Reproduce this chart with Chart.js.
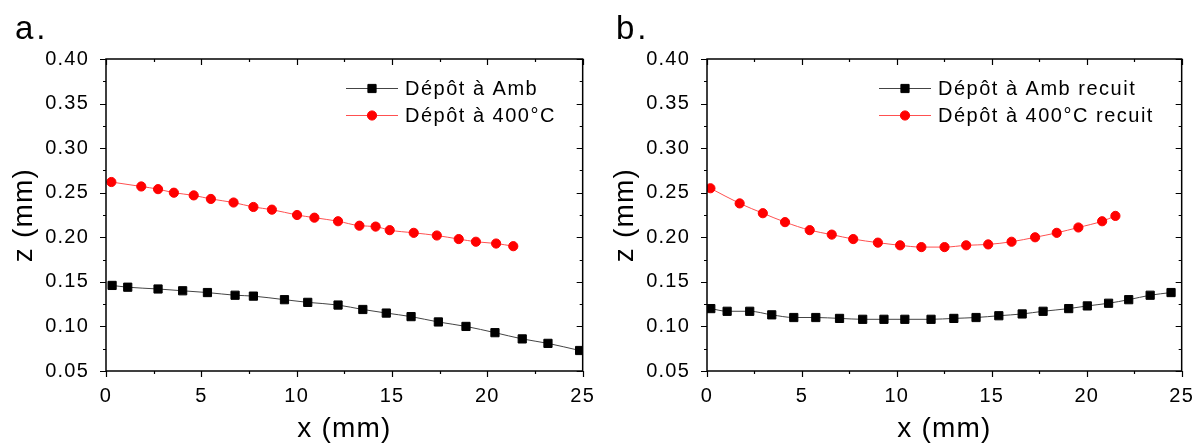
<!DOCTYPE html>
<html>
<head>
<meta charset="utf-8">
<script src="https://cdn.jsdelivr.net/npm/chart.js@4.4.1/dist/chart.umd.min.js"></script>
<style>
body{margin:0;background:#fff;}
#wrap{position:relative;width:1199px;height:443px;overflow:hidden;}
.panel{position:absolute;top:0;height:443px;}
.lbl{position:absolute;font-family:"Liberation Sans",Arial,sans-serif;font-size:33px;line-height:33px;color:#000;letter-spacing:3px;}
</style>
</head>
<body>
<div id="wrap">
  <div class="panel" style="left:0;width:600px"><canvas id="chartA"></canvas></div>
  <div class="panel" style="left:601px;width:598px"><canvas id="chartB"></canvas></div>
  <div class="lbl" style="left:15px;top:11px">a.</div>
  <div class="lbl" style="left:616px;top:11px">b.</div>
</div>
<script>
// panel a : as deposited
const ambXa = [0.32, 1.14, 2.73, 4.02, 5.32, 6.77, 7.73, 9.36, 10.58, 12.17, 13.47, 14.7, 16.0, 17.43, 18.88, 20.4, 21.83, 23.18, 24.84];
const ambZa = [0.146, 0.144, 0.142, 0.140, 0.138, 0.135, 0.134, 0.130, 0.127, 0.124, 0.119, 0.115, 0.111, 0.105, 0.100, 0.093, 0.086, 0.081, 0.073];
const hotXa = [0.28, 1.85, 2.73, 3.56, 4.6, 5.5, 6.69, 7.73, 8.7, 10.02, 10.93, 12.17, 13.29, 14.14, 14.88, 16.14, 17.35, 18.5, 19.4, 20.46, 21.36];
const hotZa = [0.262, 0.257, 0.254, 0.250, 0.247, 0.243, 0.239, 0.234, 0.231, 0.225, 0.222, 0.218, 0.213, 0.212, 0.208, 0.205, 0.202, 0.198, 0.195, 0.193, 0.190];

// panel b : annealed
const ambXb = [0.2, 1.06, 2.25, 3.41, 4.57, 5.73, 6.98, 8.2, 9.32, 10.42, 11.8, 13.0, 14.17, 15.37, 16.6, 17.7, 19.05, 20.03, 21.15, 22.21, 23.34, 24.44];
const ambZb = [0.120, 0.117, 0.117, 0.113, 0.110, 0.110, 0.109, 0.108, 0.108, 0.108, 0.108, 0.109, 0.110, 0.112, 0.114, 0.117, 0.120, 0.123, 0.126, 0.130, 0.135, 0.138];
const hotXb = [0.18, 1.72, 2.94, 4.11, 5.41, 6.57, 7.7, 9.0, 10.17, 11.29, 12.51, 13.65, 14.81, 16.04, 17.28, 18.42, 19.56, 20.81, 21.51];
const hotZb = [0.255, 0.238, 0.227, 0.217, 0.208, 0.203, 0.198, 0.194, 0.191, 0.189, 0.189, 0.191, 0.192, 0.195, 0.200, 0.205, 0.211, 0.218, 0.224];

const legendA = ['Dépôt à Amb', 'Dépôt à 400°C'];
const legendB = ['Dépôt à Amb recuit', 'Dépôt à 400°C recuit'];

const xMin = 0, xMax = 25, xStep = 5;
const yMin = 0.05, yMax = 0.40, yStep = 0.05;

const FONT = '"Liberation Sans", Arial, sans-serif';
const SPACING = '1.2px';

function pts(xs, ys) {
    return xs.map((v, i) => ({x: v, y: ys[i]}));
}

// the original figure has slightly spread-out lettering
const spacingPlugin = {
    id: 'spacing',
    beforeLayout(chart) { chart.ctx.letterSpacing = SPACING; },
    beforeDraw(chart) { chart.ctx.letterSpacing = SPACING; }
};

// frame + inner/outer ticks (major & minor)
const framePlugin = {
    id: 'frame',
    afterDraw(chart) {
        const ctx = chart.ctx;
        const a = chart.chartArea;
        const xs = chart.scales.x, ys = chart.scales.y;
        ctx.save();
        ctx.strokeStyle = '#000';
        ctx.lineWidth = 1.5;
        ctx.strokeRect(a.left, a.top, a.right - a.left, a.bottom - a.top);
        ctx.lineWidth = 1.2;
        ctx.beginPath();
        for (let i = 0; i <= (xMax - xMin) / (xStep / 2); i++) {
            const v = xMin + i * xStep / 2;
            const px = Math.round(xs.getPixelForValue(v)) + 0.5;
            const len = i % 2 === 0 ? 6 : 3;
            ctx.moveTo(px, a.bottom); ctx.lineTo(px, a.bottom + len);
            ctx.moveTo(px, a.top); ctx.lineTo(px, a.top + len);
        }
        const nY = Math.round((yMax - yMin) / (yStep / 2));
        for (let i = 0; i <= nY; i++) {
            const v = yMin + i * yStep / 2;
            const py = Math.round(ys.getPixelForValue(v)) + 0.5;
            const len = i % 2 === 0 ? 6 : 3;
            ctx.moveTo(a.left, py); ctx.lineTo(a.left - len, py);
            ctx.moveTo(a.right, py); ctx.lineTo(a.right - len, py);
        }
        ctx.stroke();
        ctx.restore();
    }
};

// legend drawn inside the plot area
const insideLegend = {
    id: 'insideLegend',
    afterDraw(chart, args, opts) {
        const ctx = chart.ctx;
        ctx.save();
        chart.data.datasets.forEach((ds, i) => {
            const y = opts.top + i * opts.row;
            ctx.strokeStyle = ds.borderColor;
            ctx.lineWidth = 1;
            ctx.beginPath();
            ctx.moveTo(opts.left, y + 0.5);
            ctx.lineTo(opts.left + 52, y + 0.5);
            ctx.stroke();
            ctx.fillStyle = ds.pointBackgroundColor;
            ctx.strokeStyle = ds.pointBorderColor;
            Chart.helpers.drawPoint(ctx, {pointStyle: ds.pointStyle, radius: ds.pointRadius, rotation: 0, borderWidth: 1}, opts.left + 26, y + 0.5);
            ctx.fillStyle = '#000';
            ctx.letterSpacing = '1.5px';
            ctx.font = '20px ' + FONT;
            ctx.textBaseline = 'middle';
            ctx.fillText(ds.label, opts.left + 59, y + 1);
        });
        ctx.restore();
    }
};

function makeChart(id, black, red, labels, legLeft, padRight) {
    const ctx = document.getElementById(id).getContext('2d');
    return new Chart(ctx, {
        type: 'line',
        data: {
            datasets: [{
                label: labels[0],
                data: black,
                borderColor: '#444',
                borderWidth: 1,
                pointStyle: 'rect',
                pointRadius: 5.8,
                pointBackgroundColor: '#000',
                pointBorderColor: '#000',
                pointBorderWidth: 1,
                tension: 0.3,
                cubicInterpolationMode: 'monotone'
            }, {
                label: labels[1],
                data: red,
                borderColor: '#ff5050',
                borderWidth: 1,
                pointStyle: 'circle',
                pointRadius: 4.6,
                pointBackgroundColor: '#ff0000',
                pointBorderColor: '#ff0000',
                pointBorderWidth: 1,
                tension: 0.3,
                cubicInterpolationMode: 'monotone'
            }]
        },
        options: {
            responsive: true,
            maintainAspectRatio: false,
            animation: false,
            layout: {padding: {left: 0, top: 59, right: padRight, bottom: 0}},
            plugins: {
                legend: {display: false},
                tooltip: {enabled: false},
                insideLegend: {left: legLeft, top: 88, row: 27}
            },
            scales: {
                x: {
                    type: 'linear',
                    min: xMin, max: xMax,
                    grid: {display: false},
                    border: {display: false},
                    ticks: {stepSize: xStep, color: '#000', font: {family: FONT, size: 20}, padding: 5, maxRotation: 0},
                    title: {display: true, text: 'x (mm)', color: '#000', font: {family: FONT, size: 28, lineHeight: 1}, padding: 0},
                    afterFit: (s) => { s.height = 72; }
                },
                y: {
                    type: 'linear',
                    min: yMin, max: yMax,
                    grid: {display: false},
                    border: {display: false},
                    ticks: {stepSize: yStep, color: '#000', font: {family: FONT, size: 20}, padding: 9,
                        callback: (v) => v.toFixed(2)},
                    title: {display: true, text: 'z (mm)', color: '#000', font: {family: FONT, size: 28, lineHeight: 1}, padding: {top: 10, bottom: 0}},
                    afterFit: (s) => { s.width = 106; }
                }
            }
        },
        plugins: [spacingPlugin, framePlugin, insideLegend]
    });
}

makeChart('chartA', pts(ambXa, ambZa), pts(hotXa, hotZa), legendA, 346, 17);
makeChart('chartB', pts(ambXb, ambZb), pts(hotXb, hotZb), legendB, 278, 15);
</script>
</body>
</html>
